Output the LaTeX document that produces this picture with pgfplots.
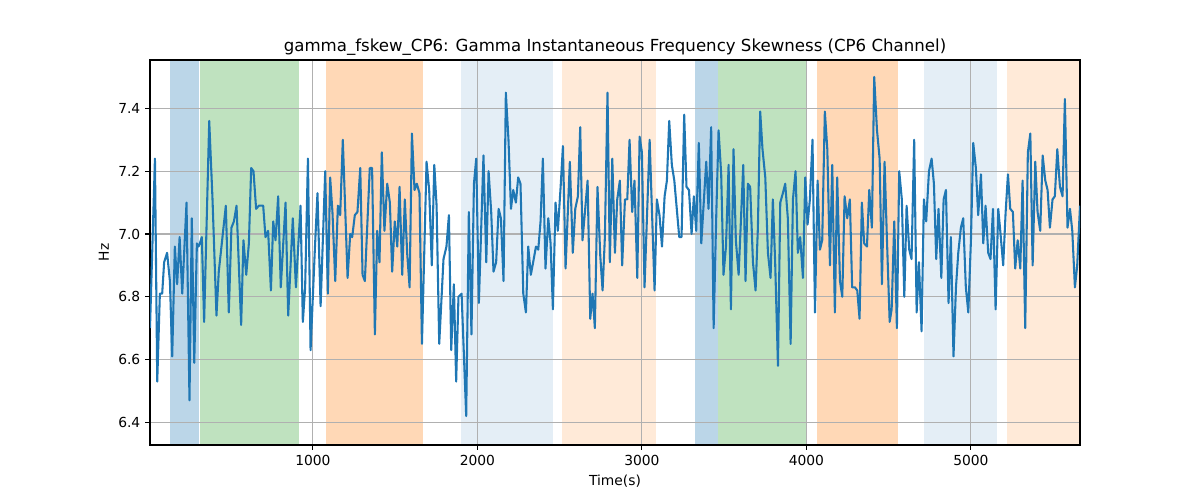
\documentclass[border=0pt]{standalone}
\usepackage{fontspec}
\setmainfont{DejaVu Sans}
\usepackage{pgfplots}
\pgfplotsset{compat=1.18}
\definecolor{tabblue}{HTML}{1F77B4}
\definecolor{tabgreen}{HTML}{2CA02C}
\definecolor{taborange}{HTML}{FF7F0E}
\definecolor{gridgray}{HTML}{B0B0B0}

\begin{document}
\begin{tikzpicture}
\begin{axis}[
  set layers,
  scale only axis,
  width=9.3in, height=3.85in,
  xmin=10, xmax=5663, ymin=6.328, ymax=7.554,
  xtick={1000,2000,3000,4000,5000},
  ytick={6.4,6.6,6.8,7.0,7.2,7.4},
  xticklabel style={/pgf/number format/1000 sep={}},
  yticklabel style={/pgf/number format/.cd, fixed, fixed zerofill, precision=1},
  /pgf/number format/assume math mode=true,
  tick align=outside, tick pos=left,
  major tick length=3.5pt,
  every tick/.style={black, line width=0.8pt},
  grid=major, major grid style={gridgray, line width=0.8pt},
  axis line style={line width=0.8pt},
  title={gamma\_fskew\_CP6: Gamma Instantaneous Frequency Skewness (CP6 Channel)},
  title style={font=\fontsize{12}{14}\selectfont, yshift=-6.5pt},
  xlabel={Time(s)}, ylabel={Hz},
  label style={font=\fontsize{10}{12}\selectfont},
  tick label style={font=\fontsize{10}{12}\selectfont},
  region/.style={on layer=axis background, draw=none, forget plot},
]
% shaded segments, spanning the full y range
\addplot[region, fill=tabblue, fill opacity=0.3] coordinates {(131,6.328) (305,6.328) (305,7.554) (131,7.554)};
\addplot[region, fill=tabgreen, fill opacity=0.3] coordinates {(313,6.328) (917,6.328) (917,7.554) (313,7.554)};
\addplot[region, fill=taborange, fill opacity=0.3] coordinates {(1079,6.328) (1671,6.328) (1671,7.554) (1079,7.554)};
\addplot[region, fill=tabblue, fill opacity=0.12] coordinates {(1901,6.328) (2462,6.328) (2462,7.554) (1901,7.554)};
\addplot[region, fill=taborange, fill opacity=0.16] coordinates {(2514,6.328) (3087,6.328) (3087,7.554) (2514,7.554)};
\addplot[region, fill=tabblue, fill opacity=0.3] coordinates {(3323,6.328) (3462,6.328) (3462,7.554) (3323,7.554)};
\addplot[region, fill=tabgreen, fill opacity=0.3] coordinates {(3462,6.328) (4005,6.328) (4005,7.554) (3462,7.554)};
\addplot[region, fill=taborange, fill opacity=0.3] coordinates {(4064,6.328) (4558,6.328) (4558,7.554) (4064,7.554)};
\addplot[region, fill=tabblue, fill opacity=0.12] coordinates {(4714,6.328) (5160,6.328) (5160,7.554) (4714,7.554)};
\addplot[region, fill=taborange, fill opacity=0.16] coordinates {(5219,6.328) (5663,6.328) (5663,7.554) (5219,7.554)};

\addplot[tabblue, line width=1.5pt, line join=round] coordinates {
(10,6.70)(40,7.24)(54,6.53)(70,6.81)(84,6.81)(96,6.91)(114,6.94)(131,6.85)(145,6.61)(161,6.96)
(175,6.84)(190,6.99)(206,6.81)(232,7.10)(250,6.47)(264,7.05)(279,6.59)(295,6.97)(305,6.96)(313,6.97)
(325,6.99)(339,6.72)(370,7.36)(390,7.11)(414,6.74)(428,6.88)(471,7.09)(489,6.75)(505,7.02)(520,7.04)
(536,7.09)(564,6.71)(578,6.98)(595,6.87)(611,6.97)(625,7.21)(639,7.20)(655,7.08)(672,7.09)(698,7.09)
(712,6.99)(728,7.01)(745,6.82)(759,7.04)(773,6.98)(789,7.12)(805,6.83)(834,7.10)(850,6.74)(878,7.05)
(897,6.83)(925,7.09)(939,6.72)(953,6.83)(970,7.24)(986,6.63)(1012,6.95)(1028,7.13)(1047,6.77)(1075,7.20)
(1091,6.81)(1105,7.18)(1119,7.07)(1136,6.85)(1152,7.09)(1166,7.06)(1182,7.30)(1211,6.86)(1227,7.00)(1239,6.99)
(1255,7.06)(1271,7.07)(1288,7.21)(1302,6.87)(1316,6.85)(1346,7.21)(1360,7.21)(1377,6.68)(1391,7.01)(1405,6.91)
(1419,7.26)(1435,7.01)(1452,7.16)(1468,7.10)(1482,6.88)(1498,7.04)(1513,6.96)(1527,7.15)(1543,6.87)(1559,7.11)
(1573,6.94)(1588,6.83)(1602,7.32)(1618,7.14)(1632,7.16)(1648,7.13)(1663,6.65)(1691,7.23)(1707,7.14)(1723,6.90)
(1738,7.22)(1752,7.09)(1768,6.65)(1794,6.92)(1812,6.96)(1827,7.06)(1841,6.63)(1857,6.84)(1871,6.53)(1885,6.80)
(1904,6.81)(1932,6.42)(1948,7.07)(1964,6.68)(1979,7.16)(1993,7.24)(2009,6.78)(2037,7.25)(2054,6.91)(2068,7.20)
(2084,7.07)(2098,6.88)(2114,6.91)(2129,7.08)(2143,7.05)(2159,6.85)(2173,7.45)(2189,7.30)(2204,7.08)(2218,7.14)
(2234,7.10)(2248,7.18)(2262,7.16)(2279,6.81)(2295,6.75)(2309,6.96)(2325,6.87)(2339,6.91)(2356,6.96)(2370,6.95)
(2384,7.04)(2398,7.24)(2414,6.89)(2431,7.05)(2445,6.97)(2459,6.76)(2475,7.10)(2489,7.01)(2506,7.15)(2520,7.28)
(2536,6.89)(2562,7.23)(2580,6.94)(2595,7.08)(2611,7.12)(2625,7.34)(2639,6.98)(2670,7.17)(2686,6.73)(2700,6.81)
(2714,6.70)(2730,7.15)(2747,6.93)(2761,6.82)(2775,6.99)(2791,7.45)(2805,6.91)(2820,7.24)(2836,6.94)(2850,7.11)
(2866,7.17)(2880,6.90)(2897,7.11)(2911,7.11)(2925,7.30)(2941,7.07)(2955,7.17)(2972,6.86)(2986,7.31)(3000,7.26)
(3016,6.83)(3047,7.30)(3077,6.82)(3091,7.11)(3107,7.06)(3122,6.96)(3138,7.12)(3152,7.17)(3166,7.36)(3182,7.22)
(3197,7.17)(3227,6.99)(3241,6.99)(3257,7.38)(3271,7.15)(3286,7.14)(3302,7.00)(3316,7.12)(3330,7.01)(3346,7.29)
(3361,6.97)(3377,7.11)(3391,7.23)(3405,7.08)(3421,7.34)(3436,6.70)(3452,7.06)(3466,7.33)(3482,7.19)(3496,6.87)
(3511,6.96)(3527,7.22)(3541,6.76)(3557,7.27)(3571,6.98)(3588,6.87)(3616,7.22)(3630,6.85)(3644,7.16)(3658,7.15)
(3675,6.91)(3691,6.82)(3705,7.02)(3719,7.39)(3733,7.27)(3750,7.18)(3766,6.94)(3782,6.86)(3796,7.11)(3810,6.91)
(3827,6.58)(3841,7.10)(3857,7.13)(3871,7.16)(3887,7.05)(3904,6.65)(3918,7.11)(3934,7.20)(3948,6.94)(3962,6.99)
(3979,6.86)(3993,7.18)(4007,7.03)(4021,7.11)(4037,7.30)(4052,6.75)(4068,7.17)(4082,6.95)(4096,6.98)(4112,7.39)
(4127,7.27)(4143,6.90)(4157,7.22)(4173,6.75)(4187,7.18)(4204,6.85)(4218,6.80)(4232,7.12)(4248,7.05)(4264,7.11)
(4278,6.83)(4295,6.83)(4309,6.82)(4323,6.73)(4337,7.10)(4351,6.97)(4368,6.96)(4382,7.14)(4398,7.02)(4412,7.50)
(4429,7.33)(4445,7.24)(4459,6.84)(4475,7.23)(4489,6.99)(4506,6.72)(4518,6.76)(4534,7.04)(4550,6.70)(4564,7.20)
(4580,7.11)(4595,6.80)(4609,7.09)(4625,6.95)(4639,6.92)(4655,7.30)(4670,6.75)(4684,6.91)(4700,6.69)(4714,7.11)
(4728,7.04)(4745,7.20)(4761,7.24)(4775,7.16)(4789,6.92)(4803,7.08)(4820,6.86)(4834,7.11)(4848,7.14)(4864,6.78)
(4878,6.99)(4894,6.61)(4909,6.83)(4923,6.94)(4939,7.02)(4953,7.05)(4969,6.83)(4984,6.75)(5000,6.98)(5014,7.29)
(5030,7.21)(5044,7.06)(5061,7.19)(5075,6.97)(5089,7.09)(5105,6.94)(5119,6.92)(5134,7.08)(5150,6.76)(5166,7.08)
(5180,7.00)(5196,6.90)(5211,7.07)(5225,7.19)(5239,7.08)(5255,7.07)(5269,6.89)(5284,6.98)(5300,6.89)(5314,7.17)
(5330,6.70)(5346,7.26)(5361,7.32)(5375,6.90)(5391,7.23)(5405,7.07)(5421,7.01)(5436,7.25)(5452,7.17)(5466,7.14)
(5480,7.02)(5496,7.11)(5510,7.12)(5525,7.27)(5541,7.15)(5557,7.12)(5571,7.43)(5587,7.02)(5602,7.08)(5616,7.01)
(5632,6.83)(5646,6.90)(5663,7.09)
};
\end{axis}
\path ([xshift=-1.5in,yshift=-0.55in]current axis.south west) rectangle ([xshift=1.2in,yshift=0.6in]current axis.north east);
\end{tikzpicture}
\end{document}
